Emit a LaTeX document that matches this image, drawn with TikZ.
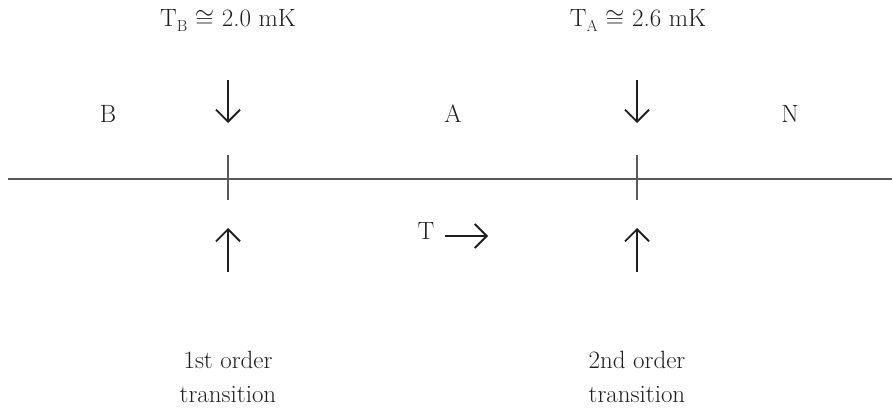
\documentclass[tikz,border=0pt]{standalone}
\usetikzlibrary{arrows.meta}
\newcommand{\lowsub}[1]{\raisebox{-5pt}{\fontsize{16}{16}\selectfont #1}}
\begin{document}
\begin{tikzpicture}[x=1pt,y=-1pt,
  lbl/.style={font=\fontsize{25}{34}\selectfont, inner sep=0pt, anchor=base, text=black!88, text height=17pt, text depth=5pt},
  axis/.style={draw=black!65, line width=1.3pt},
  tick/.style={draw=black!65, line width=1.3pt},
  marker/.style={draw=black!88, line width=1.9pt, -{Straight Barb[length=12pt,width=24pt,line width=1.9pt]}}]
\useasboundingbox (0,0) rectangle (892,409);
% labels
\node[lbl] (tb) at (228,27) {T\lowsub{B} $\cong$ 2.0 mK};
\node[lbl] (ta) at (638,27) {T\lowsub{A} $\cong$ 2.6 mK};
\node[lbl] (b) at (108,123) {B};
\node[lbl] (a) at (453,123) {A};
\node[lbl] (n) at (790,123) {N};
\node[lbl] (t) at (426,240) {T};
\node[lbl] (first1) at (228,368) {1st order};
\node[lbl] (first2) at (228,402) {transition};
\node[lbl] (second1) at (637,368) {2nd order};
\node[lbl] (second2) at (637,402) {transition};
% axis
\coordinate (l) at (8,179);
\coordinate (r) at (892,179);
\draw[axis] (l) -- (r);
\coordinate (tb1) at (228,155); \coordinate (tb2) at (228,200);
\coordinate (ta1) at (637,155); \coordinate (ta2) at (637,200);
\draw[tick] (tb1) -- (tb2);
\draw[tick] (ta1) -- (ta2);
% arrows
\coordinate (db1) at (228,80); \coordinate (db2) at (228,123);
\coordinate (da1) at (637,80); \coordinate (da2) at (637,123);
\coordinate (ub1) at (228,272); \coordinate (ub2) at (228,228);
\coordinate (ua1) at (637,272); \coordinate (ua2) at (637,228);
\coordinate (tr1) at (445,236); \coordinate (tr2) at (488,236);
\draw[marker] (db1) -- (db2);
\draw[marker] (da1) -- (da2);
\draw[marker] (ub1) -- (ub2);
\draw[marker] (ua1) -- (ua2);
\draw[marker] (tr1) -- (tr2);
\end{tikzpicture}
\end{document}
